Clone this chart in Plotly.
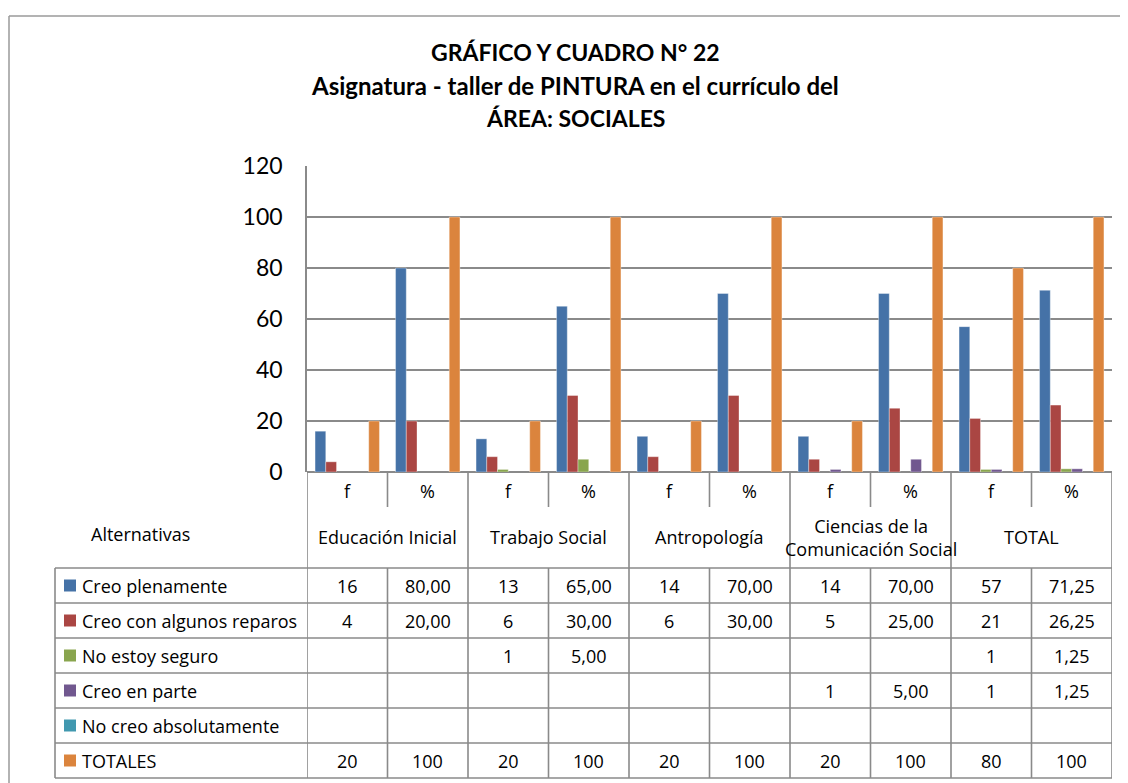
import plotly.graph_objects as go

# ---------------- data ----------------
columns = ["f", "%", "f", "%", "f", "%", "f", "%", "f", "%"]
groups = ["Educación Inicial", "Trabajo Social", "Antropología",
          "Ciencias de la<br>Comunicación Social", "TOTAL"]
series_names = ["Creo plenamente", "Creo con algunos reparos", "No estoy seguro",
                "Creo en parte", "No creo absolutamente", "TOTALES"]
creo_plenamente = [16, 80, 13, 65, 14, 70, 14, 70, 57, 71.25]
creo_reparos = [4, 20, 6, 30, 6, 30, 5, 25, 21, 26.25]
no_seguro = [None, None, 1, 5, None, None, None, None, 1, 1.25]
creo_parte = [None, None, None, None, None, None, 1, 5, 1, 1.25]
no_creo = [None] * 10
totales = [20, 100, 20, 100, 20, 100, 20, 100, 80, 100]
series_values = [creo_plenamente, creo_reparos, no_seguro, creo_parte, no_creo, totales]
colors = ["#4572A7", "#AA4643", "#89A54E", "#71588F", "#4198AF", "#DB843D"]
y_ticks = [0, 20, 40, 60, 80, 100, 120]

title_lines = ["GRÁFICO Y CUADRO N° 22",
               "Asignatura - taller de PINTURA en el currículo del",
               "ÁREA: SOCIALES"]

# ---------------- layout geometry (screen pixels) ----------------
OFF = 8                      # page body margin
W, H = 1128 - OFF, 783 - OFF
PL, PR, PT, PB = 307, 1112, 166, 472
GRID = "#8a8a8a"
FONT = "Open Sans"
FS = 18


def px(x):
    return (x - PL) / (PR - PL)


def py(y):
    return (PB - y) / (PB - PT)


fig = go.Figure()
n = len(series_values)
bw = 0.8 / n
xs = list(range(len(columns)))
for i, (name, vals, c) in enumerate(zip(series_names, series_values, colors)):
    fig.add_trace(go.Bar(
        x=xs, y=vals, name=name, width=bw, offset=-0.4 + i * bw,
        marker=dict(color=c, line=dict(color="rgba(255,255,255,0.35)", width=1)),
        showlegend=False,
    ))

shapes = []
annotations = []


def line(x0, y0, x1, y1, xref="paper"):
    shapes.append(dict(type="line", xref=xref, yref="paper", x0=x0, x1=x1,
                       y0=py(y0), y1=py(y1), line=dict(color=GRID, width=1.6),
                       layer="above"))


def text(x, y, t, xref="paper", xanchor="center", size=FS, family=FONT):
    annotations.append(dict(x=x, y=py(y), xref=xref, yref="paper", text=t,
                            xanchor=xanchor, yanchor="middle", showarrow=False,
                            font=dict(family=family, size=size, color="#000")))


# outer border
shapes.append(dict(type="line", xref="paper", yref="paper", x0=px(9), x1=px(1140),
                   y0=py(16), y1=py(16), line=dict(color="#9a9a9a", width=1.5)))
shapes.append(dict(type="line", xref="paper", yref="paper", x0=px(9), x1=px(9),
                   y0=py(16), y1=py(800), line=dict(color="#9a9a9a", width=1.5)))

ROW_TOP = 568
ROW_H = 35
n_rows = len(series_names)
TABLE_BOTTOM = ROW_TOP + ROW_H * n_rows
LEG_L = 55

# vertical table lines
for k in range(len(columns) + 1):
    xv = k - 0.5
    if k in (0, len(columns)) or k % 2 == 0:
        line(xv, PB, xv, TABLE_BOTTOM, xref="x")
    else:
        line(xv, PB, xv, 507, xref="x")
        line(xv, ROW_TOP, xv, TABLE_BOTTOM, xref="x")
line(px(LEG_L), ROW_TOP, px(LEG_L), TABLE_BOTTOM)
# horizontal table lines
for r in range(n_rows + 1):
    yy = ROW_TOP + r * ROW_H
    line(px(LEG_L), yy, 1.0, yy)

# f / % header
for k, c in enumerate(columns):
    text(k, 491, c, xref="x")
# group labels
for g, name in enumerate(groups):
    text(2 * g + 0.5, 537, name, xref="x")
text(px(140), 534, "Alternativas")


def fmt(v, col, is_total):
    if v is None:
        return ""
    if is_total or col == "f":
        return str(int(round(v)))
    return f"{v:.2f}".replace(".", ",")


for r, (name, vals, c) in enumerate(zip(series_names, series_values, colors)):
    cy = ROW_TOP + r * ROW_H + ROW_H / 2
    shapes.append(dict(type="rect", xref="paper", yref="paper", x0=px(64), x1=px(76),
                       y0=py(cy - 6), y1=py(cy + 6), fillcolor=c, line=dict(width=0)))
    text(px(80), cy, name, xanchor="left")
    for k, v in enumerate(vals):
        text(k, cy, fmt(v, columns[k], name == "TOTALES"), xref="x")

title_sizes = [23, 24, 23]
for i, t in enumerate(title_lines):
    text(px(575), 52 + i * 33, f"<b>{t}</b>", size=title_sizes[i], family="Lato")

fig.update_layout(
    width=W, height=H,
    margin=dict(l=PL - OFF, r=W - (PR - OFF), t=PT - OFF, b=H - (PB - OFF), pad=0),
    paper_bgcolor="white", plot_bgcolor="white",
    barmode="overlay",
    shapes=shapes, annotations=annotations,
    xaxis=dict(range=[-0.5, len(columns) - 0.5], showticklabels=False, showgrid=False,
               zeroline=False, showline=False, fixedrange=True),
    yaxis=dict(range=[0, 120], tickvals=y_ticks, showgrid=True, gridcolor=GRID, gridwidth=1.6,
               zeroline=True, zerolinecolor=GRID, zerolinewidth=1.6,
               showline=True, linecolor=GRID, linewidth=1.6,
               ticks="", ticklabelstandoff=18,
               tickfont=dict(family="Lato", size=23, color="#000")),
)

fig.write_html("out.html")
